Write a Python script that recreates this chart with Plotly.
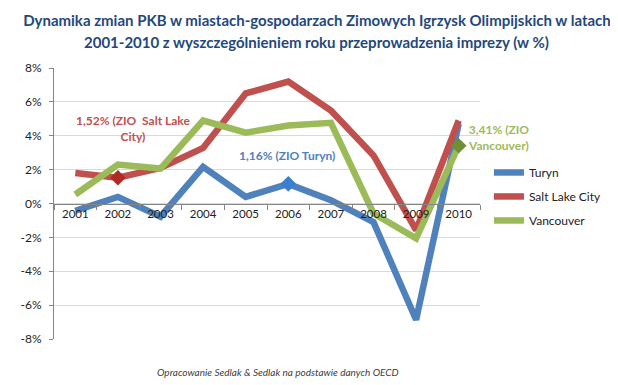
import plotly.graph_objects as go

years = ["2001", "2002", "2003", "2004", "2005", "2006", "2007", "2008", "2009", "2010"]
turyn = [-0.43, 0.39, -0.78, 2.16, 0.39, 1.16, 0.2, -1.1, -6.86, 4.7]
salt_lake = [1.8, 1.52, 2.1, 3.28, 6.5, 7.2, 5.49, 2.84, -1.57, 4.9]
vancouver = [0.53, 2.3, 2.06, 4.9, 4.18, 4.6, 4.76, -0.59, -2.06, 3.41]
y_ticks = [-8, -6, -4, -2, 0, 2, 4, 6, 8]

names = ["Turyn", "Salt Lake City", "Vancouver"]
colors = ["#4F81BD", "#C0504D", "#9BBB59"]
marker_colors = ["#3A7FD0", "#B02A26", "#6E8F33"]
series = [turyn, salt_lake, vancouver]
highlight_idx = [5, 1, 9]
labels = ["<b>1,16% (ZIO Turyn)</b>", "<b>1,52% (ZIO  Salt Lake<br>City)</b>", "<b>3,41% (ZIO<br>Vancouver)</b>"]
label_shift = [(-1, 28), (15, 49), (40, 8)]

title_line1 = "Dynamika zmian PKB w miastach-gospodarzach Zimowych Igrzysk Olimpijskich w latach"
title_line2 = "2001-2010 z wyszczególnieniem roku przeprowadzenia imprezy (w %)"

fig = go.Figure()
for n, c, s in zip(names, colors, series):
    fig.add_trace(go.Scatter(x=years, y=s, name=n, mode="lines", legendgroup=n,
                             line=dict(color=c, width=6.5)))

for n, mc, s, i in zip(names, marker_colors, series, highlight_idx):
    fig.add_trace(go.Scatter(x=[years[i]], y=[s[i]], mode="markers", showlegend=False,
                             marker=dict(symbol="diamond", size=12, color=mc)))

for c, s, i, t, (dx, dy) in zip(colors, series, highlight_idx, labels, label_shift):
    fig.add_annotation(x=i, y=s[i], xref="x", yref="y", text=t, showarrow=False,
                       xshift=dx, yshift=dy,
                       font=dict(family="Lato", size=12, color=c), align="center")

fig.add_annotation(text="<b>" + title_line2 + "</b>", xref="paper", yref="paper",
                   x=0.617, y=1.096, xanchor="center", yanchor="middle", showarrow=False,
                   font=dict(family="Lato", size=15, color="#1F497D"))

fig.add_annotation(text="<i>Opracowanie Sedlak & Sedlak na podstawie danych OECD</i>",
                   xref="paper", yref="paper", x=0.526, y=-0.15, showarrow=False,
                   font=dict(family="Lato", size=10, color="#404040"))

fig.update_layout(
    width=618, height=385,
    margin=dict(l=46, r=146, t=60, b=54),
    paper_bgcolor="white", plot_bgcolor="white",
    title=dict(text="<b>" + title_line1 + "</b>",
               x=0.5, xanchor="center", yref="container", y=1 - 13 / 385, yanchor="middle",
               font=dict(family="Lato", size=15, color="#1F497D")),
    font=dict(family="Lato", size=11, color="#404040"),
    legend=dict(x=1.021, y=0.526, xanchor="left", yanchor="middle", itemwidth=30,
                font=dict(family="Lato", size=12, color="#222222"), tracegroupgap=5,
                bgcolor="rgba(0,0,0,0)"),
    xaxis=dict(type="category", range=[-0.5, 9.5], anchor="free", position=0.5,
               showline=True, linecolor="#868686", linewidth=1,
               ticks="outside", tickson="boundaries", ticklen=5, tickcolor="#868686",
               showgrid=False, zeroline=False, tickfont=dict(size=11.5, color="#222222")),
    yaxis=dict(range=[-8, 8], tickvals=y_ticks, ticktext=[f"{v}%" for v in y_ticks],
               showline=True, linecolor="#868686", linewidth=1,
               ticks="outside", ticklen=4, tickcolor="#868686", ticklabelstandoff=5,
               showgrid=True, gridcolor="#D9D9D9", gridwidth=1, zeroline=False,
               tickfont=dict(size=12, color="#222222")),
)

fig.write_html("out.html")
